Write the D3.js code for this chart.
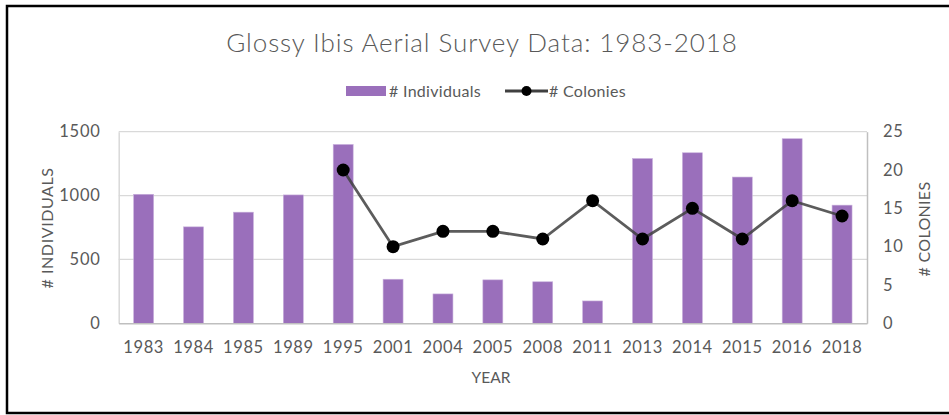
<!DOCTYPE html>
<html><head><meta charset="utf-8">
<script src="https://cdn.jsdelivr.net/npm/d3@7"></script>
<style>body{margin:0;background:#fff}svg{display:block}text{font-family:Lato,"Open Sans",sans-serif}</style>
</head><body><svg id="c" width="949" height="415"></svg>
<script>
const years = ["1983","1984","1985","1989","1995","2001","2004","2005","2008","2011","2013","2014","2015","2016","2018"];
const individuals = [1010,755,870,1005,1400,345,230,340,325,175,1290,1335,1145,1445,925];
const colonies = [null,null,null,null,20,10,12,12,11,16,11,15,11,16,14];
const leftTicks = [0,500,1000,1500];
const rightTicks = [0,5,10,15,20,25];

const svg = d3.select("#c");
const L=118.7, R=867, T=131.7, B=323.3;
const grey="#595959";

svg.append("rect").attr("x",7).attr("y",6).attr("width",960).attr("height",407)
  .attr("fill","#fff").attr("stroke","#000").attr("stroke-width",2.5);

const x = d3.scaleBand().domain(years).range([L,R]).paddingInner(0.6).paddingOuter(0.3);
const xc = d => x(d)+x.bandwidth()/2;
const yL = d3.scaleLinear().domain([0,1500]).range([B,T]);
const yR = d3.scaleLinear().domain([0,25]).range([B,T]);

// gridlines
svg.append("g").selectAll("line").data(leftTicks.slice(1)).join("line")
  .attr("x1",L).attr("x2",R).attr("y1",d=>yL(d)).attr("y2",d=>yL(d))
  .attr("stroke","#d9d9d9").attr("stroke-width",1.3);

// bars
svg.append("g").selectAll("rect").data(years).join("rect")
  .attr("x",d=>x(d)).attr("width",x.bandwidth())
  .attr("y",(d,i)=>yL(individuals[i])).attr("height",(d,i)=>B-yL(individuals[i]))
  .attr("fill","#9a6fbb").attr("stroke","#c8b0dc").attr("stroke-width",0.6);

// axes
const axL = d3.axisLeft(yL).tickValues(leftTicks).tickFormat(d3.format("d")).tickSize(0).tickPadding(18);
const gL = svg.append("g").attr("transform",`translate(${L},0)`).call(axL);
const axR = d3.axisRight(yR).tickValues(rightTicks).tickFormat(d3.format("d")).tickSize(0).tickPadding(16);
const gR = svg.append("g").attr("transform",`translate(${R},0)`).call(axR);
const axB = d3.axisBottom(x).tickSize(0).tickPadding(18);
const gB = svg.append("g").attr("transform",`translate(0,${B})`).call(axB);
[gL,gR,gB].forEach(g=>{
  g.select(".domain").attr("stroke","#bfbfbf").attr("stroke-width",1.5);
  g.selectAll("text").attr("fill",grey).attr("font-size",16.5).attr("letter-spacing",0.8)
    .style("font-family","Lato,'Open Sans',sans-serif");
});
gB.selectAll("text").attr("letter-spacing",0.6);
gL.select(".domain").attr("stroke","#d9d9d9");
gR.selectAll("text").attr("dy","0.32em");

// line
const pts = years.map((d,i)=>({d,v:colonies[i]})).filter(p=>p.v!==null);
svg.append("path").datum(pts)
  .attr("d",d3.line().x(p=>xc(p.d)).y(p=>yR(p.v)))
  .attr("fill","none").attr("stroke","#404040").attr("stroke-opacity",0.85).attr("stroke-width",2.8);
svg.append("g").selectAll("circle").data(pts).join("circle")
  .attr("cx",p=>xc(p.d)).attr("cy",p=>yR(p.v)).attr("r",6.5).attr("fill","#000");

// titles
svg.append("text").attr("x",482).attr("y",52).attr("text-anchor","middle")
  .attr("font-size",26).attr("font-weight",300).attr("letter-spacing",0.9).attr("fill",grey)
  .text("Glossy Ibis Aerial Survey Data: 1983-2018");
svg.append("text").attr("x",491).attr("y",383).attr("text-anchor","middle")
  .attr("font-size",15.5).attr("fill",grey).text("YEAR");
svg.append("text").attr("transform","translate(53,228) rotate(-90)").attr("text-anchor","middle")
  .attr("font-size",16).attr("letter-spacing",0.6).attr("fill",grey).text("# INDIVIDUALS");
svg.append("text").attr("transform","translate(930,229) rotate(-90)").attr("text-anchor","middle")
  .attr("font-size",16).attr("letter-spacing",0.3).attr("fill",grey).text("# COLONIES");

// legend
const lg = svg.append("g");
lg.append("rect").attr("x",346).attr("y",86).attr("width",40).attr("height",10).attr("fill","#9a6fbb");
lg.append("text").attr("x",389).attr("y",97).attr("font-size",16).attr("letter-spacing",0.3).attr("fill",grey).text("# Individuals");
lg.append("line").attr("x1",505).attr("x2",548).attr("y1",91).attr("y2",91).attr("stroke","#404040").attr("stroke-width",2.8);
lg.append("circle").attr("cx",526.5).attr("cy",91).attr("r",5).attr("fill","#000");
lg.append("text").attr("x",549).attr("y",97).attr("font-size",16).attr("letter-spacing",0.3).attr("fill",grey).text("# Colonies");
</script></body></html>
